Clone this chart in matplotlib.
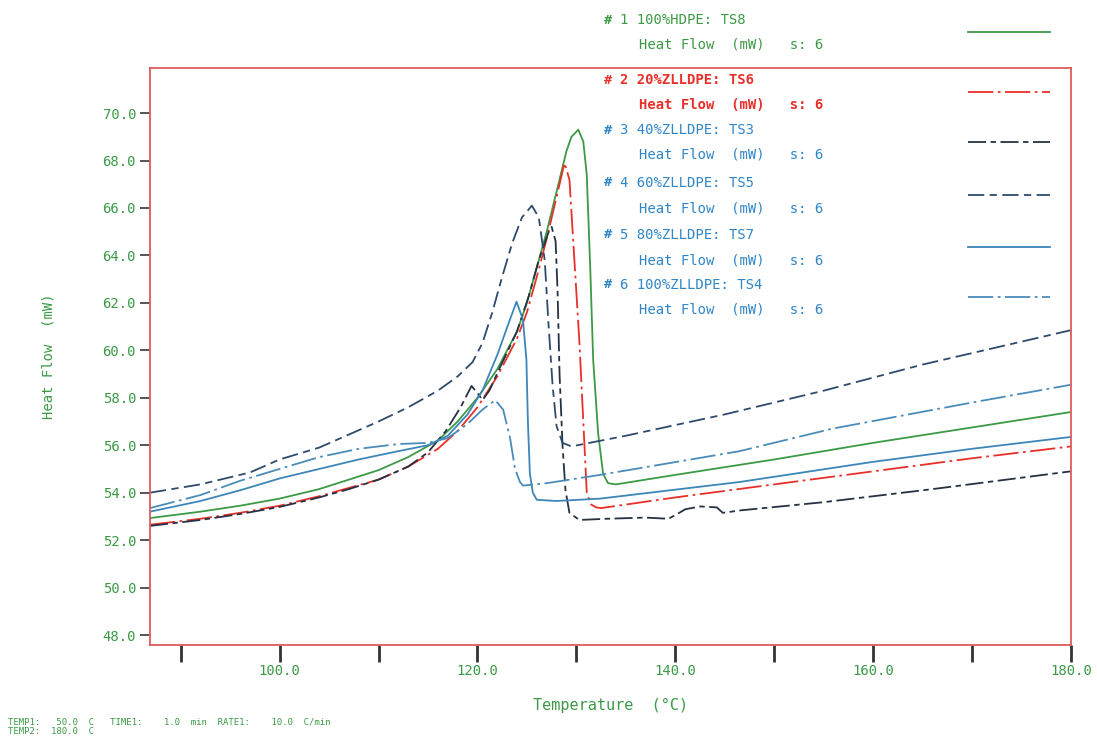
#!/usr/bin/env python3
# DSC heat flow curves, HDPE / ZLLDPE blends (recreated from scanned plot)

import matplotlib
matplotlib.use("Agg")
import matplotlib.pyplot as plt
from matplotlib.lines import Line2D
from matplotlib.ticker import FormatStrFormatter, FuncFormatter

# ---- data (Temperature degC, Heat Flow mW) ----
hdpe_t = [86.9, 92, 96, 100, 104, 107, 110, 113, 116, 118, 120, 122, 124, 125, 126, 127,
          128.3, 129, 129.5, 130.2, 130.7, 131.05, 131.4, 131.7, 132.2, 132.7, 133.2, 134,
          140, 150, 160, 170, 180]
hdpe_v = [52.93, 53.2, 53.45, 53.75, 54.15, 54.55, 54.95, 55.5, 56.2, 57.0, 58.0, 59.2, 60.8,
          62.0, 63.5, 65.0, 67.2, 68.4, 69.0, 69.3, 68.8, 67.4, 63.5, 59.6, 56.5, 54.8, 54.4,
          54.35, 54.75, 55.4, 56.1, 56.75, 57.4]

z20_t = [86.9, 92, 96, 100, 104, 107, 110, 113, 116, 118, 120, 122, 124, 125, 126, 127,
         128.3, 128.8, 129.3, 129.8, 130.3, 130.7, 131.05, 131.5, 132.0, 132.5, 135, 140,
         150, 160, 170, 180]
z20_v = [52.65, 52.9, 53.15, 53.45, 53.85, 54.2, 54.55, 55.1, 55.85, 56.6, 57.6, 58.9, 60.5,
         61.6, 63.1, 64.7, 67.0, 67.9, 67.2, 63.8, 60.4, 57.0, 54.0, 53.5, 53.38, 53.35, 53.5,
         53.8, 54.35, 54.9, 55.45, 55.95]

z40_t = [86.9, 92, 96, 100, 104, 107, 110, 113, 115, 116.8, 118.3, 119.4, 120.0, 120.5,
         121.2, 122.3, 124.0, 125.2, 126.2, 127.2, 127.5, 127.9, 128.1, 128.3, 128.6, 128.9,
         129.3, 130.3, 133, 137, 139.3, 140.2, 141.0, 142.5, 144.2, 144.8, 146.5, 155, 166, 180]
z40_v = [52.6, 52.85, 53.1, 53.4, 53.8, 54.15, 54.55, 55.1, 55.7, 56.6, 57.6, 58.5, 58.2,
         57.9, 58.3, 59.3, 60.8, 62.3, 63.8, 65.0, 65.2, 64.6, 62.5, 59.0, 56.0, 54.1, 53.15,
         52.85, 52.9, 52.95, 52.9, 53.1, 53.3, 53.42, 53.38, 53.15, 53.25, 53.6, 54.15, 54.9]

z60_t = [86.9, 92, 97, 100, 104, 107, 110, 113, 116, 118, 119.5, 120.5, 121.5, 122.5, 123.5,
         124.5, 125.5, 126.2, 126.8, 127.2, 127.6, 128.0, 128.6, 129.5, 135, 145, 155, 165, 180]
z60_v = [54.0, 54.35, 54.85, 55.4, 55.9, 56.45, 57.0, 57.6, 58.3, 58.9, 59.5, 60.3, 61.6,
         63.1, 64.5, 65.6, 66.1, 65.6, 63.8, 61.0, 58.5, 56.8, 56.1, 55.95, 56.4, 57.3, 58.3,
         59.4, 60.85]

z80_t = [86.9, 92, 96, 100, 104, 108, 112, 115, 117, 119, 120.5, 122, 123.2, 123.95, 124.6,
         124.95, 125.1, 125.3, 125.6, 126.0, 128, 132.4, 146.5, 160, 170, 180]
z80_v = [53.2, 53.65, 54.1, 54.6, 55.0, 55.4, 55.75, 56.0, 56.4, 57.3, 58.3, 59.8, 61.2, 62.05,
         61.3, 59.6, 57.0, 54.8, 54.0, 53.7, 53.65, 53.75, 54.45, 55.3, 55.85, 56.35]

z100_t = [86.9, 92, 96, 100, 104, 108, 112, 115, 117, 119, 120.5, 121.8, 122.6, 123.3, 123.8,
          124.3, 124.6, 127, 132.4, 146.5, 155.9, 170, 180]
z100_v = [53.35, 53.9, 54.5, 55.0, 55.5, 55.85, 56.05, 56.1, 56.3, 56.9, 57.5, 57.9, 57.5,
          56.3, 55.0, 54.45, 54.3, 54.4, 54.75, 55.75, 56.7, 57.8, 58.55]

series_names = ["1 100%HDPE: TS8", "2 20%ZLLDPE: TS6", "3 40%ZLLDPE: TS3",
                "4 60%ZLLDPE: TS5", "5 80%ZLLDPE: TS7", "6 100%ZLLDPE: TS4"]
y_ticks = [48, 50, 52, 54, 56, 58, 60, 62, 64, 66, 68, 70]
x_ticks = [90, 100, 110, 120, 130, 140, 150, 160, 170, 180]
x_labelled = [100, 120, 140, 160, 180]

# ---- styling ----
GREEN = "#3c9a46"
RED = "#e8302a"
BLUE_TXT = "#2f86c8"
FRAME = "#e05a5a"
MONO = "DejaVu Sans Mono"

curves = [
    (hdpe_t, hdpe_v, GREEN, "-"),
    (z20_t, z20_v, RED, (0, (14, 2.5, 1.5, 2.5))),
    (z40_t, z40_v, "#253244", (0, (10, 2.5, 3, 2.5))),
    (z60_t, z60_v, "#2e4a6c", (0, (9, 3, 4, 3))),
    (z80_t, z80_v, "#3d86b8", "-"),
    (z100_t, z100_v, "#4a8cb8", (0, (14, 2.5, 1.5, 2.5))),
]
text_colors = [GREEN, RED, BLUE_TXT, BLUE_TXT, BLUE_TXT, BLUE_TXT]

W, H = 1097, 740
fig = plt.figure(figsize=(W / 100, H / 100), dpi=100)
ax = fig.add_axes([150 / W, 1 - 645 / H, (1071 - 150) / W, (645 - 68) / H])

for t, v, col, ls in curves:
    ax.plot(t, v, color=col, linestyle=ls, linewidth=1.3)

ax.set_xlim(86.9, 180.0)
ax.set_ylim(47.58, 71.9)

ax.set_yticks(y_ticks)
ax.yaxis.set_major_formatter(FormatStrFormatter("%.1f"))
ax.set_xticks(x_ticks)
ax.xaxis.set_major_formatter(
    FuncFormatter(lambda v, p: f"{v:.1f}" if round(v) in x_labelled else ""))

ax.tick_params(axis="y", direction="out", length=7, width=1.4, color="#555555",
               labelcolor=GREEN, labelsize=10, pad=3)
ax.tick_params(axis="x", direction="out", length=12, width=2.0, color="#333333",
               labelcolor=GREEN, labelsize=10, pad=2)
for lab in ax.get_xticklabels() + ax.get_yticklabels():
    lab.set_family(MONO)

for sp in ax.spines.values():
    sp.set_color(FRAME)
    sp.set_linewidth(1.3)

ax.set_ylabel("Heat Flow  (mW)", color=GREEN, family=MONO, fontsize=10, labelpad=34)
ax.set_xlabel("Temperature  (\u00b0C)", color=GREEN, family=MONO, fontsize=11, labelpad=14)

# ---- legend block, laid out like the plotter output ----
row_y = [20, 80, 130, 183, 235, 285]
for i, name in enumerate(series_names):
    y0 = row_y[i]
    col = text_colors[i]
    weight = "bold" if i == 1 else "normal"
    fig.text(604 / W, 1 - y0 / H, "#", color=col, family=MONO, fontsize=9.5,
             va="center", ha="left", weight="bold")
    fig.text(620 / W, 1 - y0 / H, name, color=col, family=MONO, fontsize=10,
             va="center", ha="left", weight=weight)
    fig.text(639 / W, 1 - (y0 + 25) / H, "Heat Flow  (mW)   s: 6", color=col,
             family=MONO, fontsize=10, va="center", ha="left", weight=weight)
    ly = 1 - (y0 + 12) / H
    _, _, lc, lls = curves[i]
    fig.add_artist(Line2D([968 / W, 1050 / W], [ly, ly], color=lc, linestyle=lls,
                          linewidth=1.3, transform=fig.transFigure))

# ---- method line at the bottom ----
fig.text(8 / W, 1 - 722 / H,
         "TEMP1:   50.0  C   TIME1:    1.0  min  RATE1:    10.0  C/min",
         color=GREEN, family=MONO, fontsize=6.5, va="center", ha="left")
fig.text(8 / W, 1 - 732 / H, "TEMP2:  180.0  C",
         color=GREEN, family=MONO, fontsize=6.5, va="center", ha="left")

fig.savefig("out.png", dpi=100)
